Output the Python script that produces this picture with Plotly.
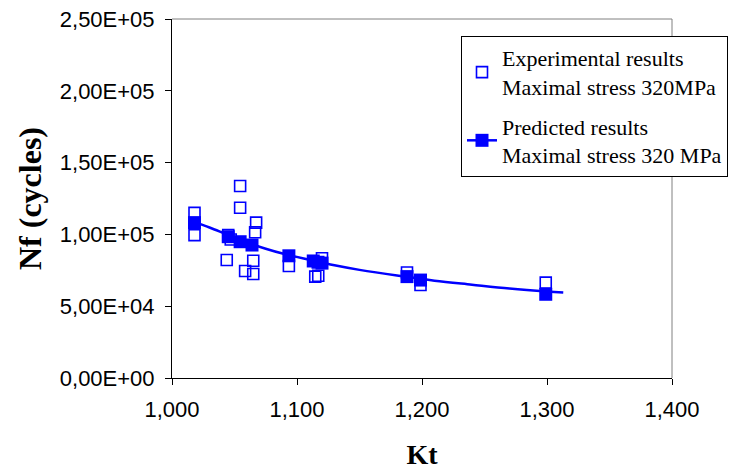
import plotly.graph_objects as go

# Experimental results (Kt, Nf)
exp_kt = [1.018, 1.018, 1.0545, 1.0545, 1.0673, 1.0665, 1.0438, 1.0585, 1.065, 1.065,
          1.045, 1.047, 1.0935, 1.120, 1.1146, 1.117, 1.188, 1.1988, 1.299]
exp_nf = [115000, 99500, 133700, 118600, 108200, 101500, 82200, 74500, 81700, 72400,
          99600, 96500, 78000, 83400, 70600, 71200, 73500, 64800, 66400]

# Predicted results (markers)
pred_kt = [1.018, 1.045, 1.0545, 1.064, 1.0935, 1.113, 1.1168, 1.120, 1.188, 1.1988, 1.299]
pred_nf = [108200, 98400, 94900, 92600, 85100, 81500, 80600, 80000, 70600, 68200, 58300]

# Predicted curve
curve_kt = [1.018, 1.030, 1.045, 1.060, 1.075, 1.090, 1.110, 1.130, 1.150, 1.180,
            1.210, 1.240, 1.270, 1.300, 1.313]
curve_nf = [108500, 104800, 99500, 94500, 90000, 86300, 82300, 78500, 75300, 71300,
            67800, 65000, 62300, 60200, 59500]

x_ticks = [1.0, 1.1, 1.2, 1.3, 1.4]
x_labels = ["1,000", "1,100", "1,200", "1,300", "1,400"]
y_ticks = [0, 50000, 100000, 150000, 200000, 250000]
y_labels = ["0,00E+00", "5,00E+04", "1,00E+05", "1,50E+05", "2,00E+05", "2,50E+05"]

BLUE = "#0000FF"
SERIF = "Liberation Serif, Times New Roman, serif"

fig = go.Figure()
fig.add_trace(go.Scatter(
    x=curve_kt, y=curve_nf, mode="lines", line=dict(color=BLUE, width=2.5, shape="spline"),
    showlegend=False, hoverinfo="skip"))
fig.add_trace(go.Scatter(
    x=exp_kt, y=exp_nf, mode="markers",
    marker=dict(symbol="square-open", size=11, color=BLUE, line=dict(width=1.6, color=BLUE)),
    name="Experimental results<br>Maximal stress 320MPa", legendgroup="a"))
fig.add_trace(go.Scatter(
    x=pred_kt, y=pred_nf, mode="markers",
    marker=dict(symbol="square", size=13, color=BLUE),
    showlegend=False, legendgroup="b"))
fig.add_trace(go.Scatter(
    x=[None], y=[None], mode="lines+markers",
    line=dict(color=BLUE, width=2.5), marker=dict(symbol="square", size=13, color=BLUE),
    name="Predicted results<br>Maximal stress 320 MPa", legendgroup="b"))

# page body has an 8px margin: figure is 739x462 placed at (8,8)
fig.update_layout(
    width=739, height=462,
    margin=dict(l=164, r=75, t=11, b=92, autoexpand=False),
    paper_bgcolor="white", plot_bgcolor="white",
    font=dict(family="Liberation Sans, Arial", size=22, color="black"),
    showlegend=True,
    legend=dict(
        x=0.578, y=0.9526, xanchor="left", yanchor="top",
        bordercolor="black", borderwidth=1, bgcolor="white",
        font=dict(family=SERIF, size=22, color="black"),
        tracegroupgap=8, traceorder="grouped"),
    xaxis=dict(
        range=[1.0, 1.4], tickvals=x_ticks, ticktext=x_labels,
        showgrid=False, zeroline=False, showline=True, linecolor="black", linewidth=1,
        ticks="outside", ticklen=6, tickcolor="black", ticklabelstandoff=6,
        ticklabeloverflow="allow",
        title=dict(text="<b>Kt</b>", font=dict(family=SERIF, size=28), standoff=24)),
    yaxis=dict(
        range=[0, 250000], tickvals=y_ticks, ticktext=y_labels,
        showgrid=False, zeroline=False, showline=True, linecolor="black", linewidth=1,
        ticks="outside", ticklen=6, tickcolor="black", ticklabelstandoff=6,
        ticklabeloverflow="allow",
        title=dict(text="<b>Nf (cycles)</b>", font=dict(family=SERIF, size=32), standoff=8)),
    shapes=[
        dict(type="line", xref="paper", yref="paper", x0=0, x1=1, y0=1, y1=1,
             line=dict(color="#808080", width=1), layer="above"),
        dict(type="line", xref="paper", yref="paper", x0=1, x1=1, y0=0, y1=1,
             line=dict(color="#808080", width=1), layer="above"),
    ],
)

fig.write_html("out.html")
